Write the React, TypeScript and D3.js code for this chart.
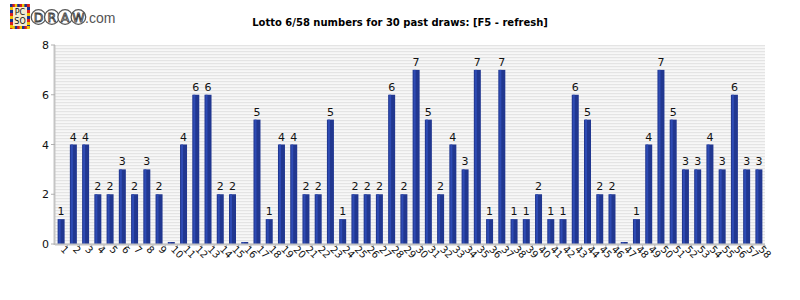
import React from "react";
import * as d3 from "d3";

const numbers: string[] = Array.from({ length: 58 }, (_, i) => String(i + 1));
const counts: number[] = [
  1, 4, 4, 2, 2, 3, 2, 3, 2, 0,
  4, 6, 6, 2, 2, 0, 5, 1, 4, 4,
  2, 2, 5, 1, 2, 2, 2, 6, 2, 7,
  5, 2, 4, 3, 7, 1, 7, 1, 1, 2,
  1, 1, 6, 5, 2, 2, 0, 1, 4, 7,
  5, 3, 3, 4, 3, 6, 3, 3,
];
const yTicks: number[] = [0, 2, 4, 6, 8];
const title = "Lotto 6/58 numbers for 30 past draws: [F5 - refresh]";

const W = 800, H = 300;
const L = 55, R = 765, T = 45, B = 244;

export default function App() {
  const x = d3.scaleBand<string>().domain(numbers).range([L, R]).paddingInner(0).paddingOuter(0);
  const y = d3.scaleLinear().domain([0, 8]).range([B, T]);
  const bw = 7;
  const font = "DejaVu Sans, sans-serif";
  const stripeRows = d3.range(T, B, 3);
  const logoColors = ["#d81e1e", "#f2c200", "#1a2f8f"];
  const letters = ["D", "R", "A", "W"];
  return (
    <svg width={W} height={H} style={{ position: "absolute", left: 0, top: 0, background: "#fff" }}>
      <rect x={L} y={T} width={R - L} height={B - T} fill="#f7f7f7" />
      {stripeRows.map((s) => (
        <rect key={s} x={L} y={s} width={R - L} height={1.2} fill="#e4e4e4" />
      ))}
      {counts.map((c, i) => {
        const cx = (x(numbers[i]) as number) + x.bandwidth() / 2;
        const top = c === 0 ? B - 2 : y(c);
        const h = B - top;
        return (
          <g key={i}>
            <rect x={cx - bw / 2} y={top} width={bw} height={h} fill="#213790" />
            <rect x={cx - bw / 2 + 1} y={top} width={2} height={h} fill="#2e4bb4" />
            {c > 0 && (
              <text x={cx} y={top - 4} textAnchor="middle" fontFamily={font} fontSize={11} fill="#111">
                {c}
              </text>
            )}
          </g>
        );
      })}
      <line x1={L} x2={R} y1={B + 0.5} y2={B + 0.5} stroke="#c4c4c4" strokeWidth={2} />
      <line x1={L - 0.5} x2={L - 0.5} y1={T} y2={B + 1} stroke="#c4c4c4" strokeWidth={2} />
      {yTicks.map((t) => (
        <g key={t}>
          <line x1={L - 4} x2={L} y1={y(t)} y2={y(t)} stroke="#b0b0b0" strokeWidth={1} />
          <text x={L - 6} y={y(t) + 4} textAnchor="end" fontFamily={font} fontSize={11} fill="#111">
            {t}
          </text>
        </g>
      ))}
      {numbers.map((n) => {
        const bx = (x(n) as number) + x.bandwidth();
        const cx = (x(n) as number) + x.bandwidth() / 2;
        return (
          <g key={n}>
            <line x1={bx} x2={bx} y1={B + 1} y2={B + 4} stroke="#b0b0b0" strokeWidth={1} />
            <text
              transform={`translate(${cx - 1},${B + 6}) rotate(45)`}
              fontFamily={font}
              fontSize={10}
              fill="#111"
            >
              {n}
            </text>
          </g>
        );
      })}
      <text x={400} y={26} textAnchor="middle" fontFamily={font} fontSize={10} fontWeight="bold" fill="#000">
        {title}
      </text>
      <g>
        {d3.range(0, 24, 3).map((k, j) => (
          <g key={k}>
            <rect x={10} y={4 + k} width={3} height={3} fill={logoColors[j % 3]} />
            <rect x={27} y={4 + k} width={3} height={3} fill={logoColors[(j + 1) % 3]} />
            <rect x={10 + k * 0.8} y={4} width={3} height={3} fill={logoColors[(j + 2) % 3]} />
            <rect x={10 + k * 0.8} y={26} width={3} height={3} fill={logoColors[j % 3]} />
          </g>
        ))}
        <rect x={13} y={7} width={14} height={19} fill="#f4ead0" />
        <text x={20} y={15} textAnchor="middle" fontFamily={font} fontSize={8} fill="#111">PC</text>
        <text x={20} y={24} textAnchor="middle" fontFamily={font} fontSize={8} fill="#111">SO</text>
        {letters.map((l, i) => (
          <g key={l}>
            <circle cx={38.5 + i * 13.3} cy={17} r={7.3} fill="#fff" stroke="#555" strokeWidth={1.3} />
            <text x={38.5 + i * 13.3} y={21.5} textAnchor="middle" fontFamily={font} fontSize={12.5} fill="#fff" stroke="#444" strokeWidth={0.9}>
              {l}
            </text>
          </g>
        ))}
        <text x={85} y={23} fontFamily="Liberation Sans, Arial, sans-serif" fontSize={14} fill="#555">.com</text>
      </g>
    </svg>
  );
}
